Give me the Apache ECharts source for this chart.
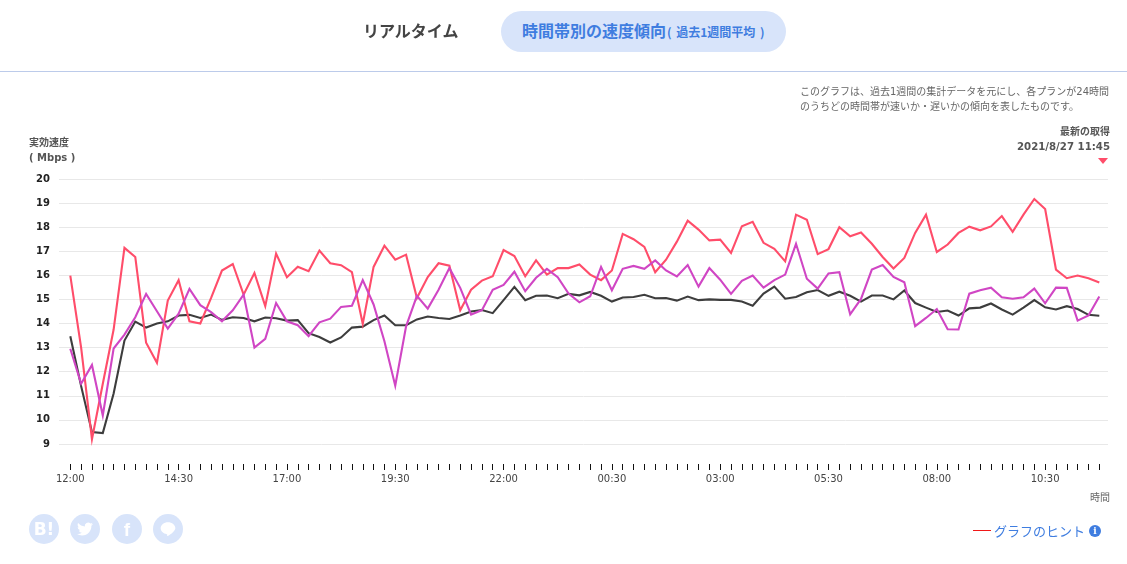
<!DOCTYPE html>
<html>
<head>
    <meta charset="utf-8">
    <title>時間帯別の速度傾向</title>
    <script src="https://cdn.jsdelivr.net/npm/echarts@6/dist/echarts.min.js"></script>
    <style>
        html, body { margin: 0; padding: 0; background: #fff; overflow: hidden; }
        body { width: 1127px; height: 564px; position: relative; font-family: "DejaVu Sans", "Noto Sans CJK JP", sans-serif; }
        #chart { position: absolute; left: 0; top: 0; width: 1127px; height: 564px; }
        .abs { position: absolute; white-space: nowrap; }
        .tab-off { left: 363px; top: 18px; font-size: 16px; line-height: 24px; font-weight: bold; color: #444; font-family: "Noto Sans CJK JP", sans-serif; }
        .tab-on { left: 501px; top: 11px; width: 285px; height: 41px; border-radius: 21px; background: #d8e4fa; }
        .tab-on-text { left: 522px; top: 18px; font-size: 16px; line-height: 24px; font-weight: bold; color: #3f7de0; font-family: "Noto Sans CJK JP", sans-serif; }
        .tab-on-text small { font-size: 12px; word-spacing: 2px; margin-left: 1px; }
        .rule { left: 0; top: 71px; width: 1127px; height: 1px; background: #bccbea; }
        .note { left: 800px; top: 84px; font-size: 10px; line-height: 15px; color: #666; }
        .latest { right: 17px; top: 124px; text-align: right; font-weight: bold; color: #555; }
        .latest .l1 { font-size: 10px; line-height: 15px; }
        .latest .l2 { font-size: 10.2px; line-height: 15px; }
        .marker { left: 1098px; top: 158px; width: 0; height: 0; border-left: 5.5px solid transparent; border-right: 5.5px solid transparent; border-top: 6px solid #ff4d6a; }
        .yname { left: 29px; top: 135px; font-size: 10px; line-height: 15px; font-weight: bold; color: #555; }
        .xname { left: 1090px; top: 491px; font-size: 10px; line-height: 14px; color: #666; }
        .social { top: 514px; width: 30px; height: 30px; border-radius: 50%; background: #d8e4fa; color: #fff; text-align: center; font-weight: bold; }
        .social svg { position: absolute; left: 7px; top: 7px; width: 16px; height: 16px; fill: #fff; }
        .hint-line { left: 973px; top: 530px; width: 18px; height: 1px; background: #f01818; }
        .hint { left: 994px; top: 522px; font-size: 13px; line-height: 18px; color: #3f7de0; font-family: "Noto Sans CJK JP", sans-serif; }
        .info { left: 1089px; top: 525px; width: 12px; height: 12px; border-radius: 50%; background: #3f7de0; color: #fff; font-size: 9px; line-height: 12px; font-weight: bold; text-align: center; font-family: "DejaVu Serif", serif; }
    </style>
</head>
<body>

<div id="chart"></div>

<div class="abs tab-off">リアルタイム</div>
<div class="abs tab-on"></div>
<div class="abs tab-on-text">時間帯別の速度傾向<small>( 過去1週間平均 )</small></div>
<div class="abs rule"></div>
<div class="abs note">このグラフは、過去1週間の集計データを元にし、各プランが24時間<br>のうちどの時間帯が速いか・遅いかの傾向を表したものです。</div>
<div class="abs latest"><div class="l1">最新の取得</div><div class="l2">2021/8/27 11:45</div></div>
<div class="abs marker"></div>
<div class="abs yname">実効速度<br>( Mbps )</div>
<div class="abs xname">時間</div>

<div class="abs social" style="left:29px;font-size:17px;line-height:30px;">B!</div>
<div class="abs social" style="left:70px;"><svg viewBox="0 0 24 24"><path d="M23.953 4.57a10 10 0 01-2.825.775 4.958 4.958 0 002.163-2.723c-.951.555-2.005.959-3.127 1.184a4.92 4.92 0 00-8.384 4.482C7.69 8.095 4.067 6.13 1.64 3.162a4.822 4.822 0 00-.666 2.475c0 1.71.87 3.213 2.188 4.096a4.904 4.904 0 01-2.228-.616v.06a4.923 4.923 0 003.946 4.827 4.996 4.996 0 01-2.212.085 4.936 4.936 0 004.604 3.417 9.867 9.867 0 01-6.102 2.105c-.39 0-.779-.023-1.17-.067a13.995 13.995 0 007.557 2.209c9.053 0 13.998-7.496 13.998-13.985 0-.21 0-.42-.015-.63A9.935 9.935 0 0024 4.59z"/></svg></div>
<div class="abs social" style="left:112px;font-size:19px;line-height:31px;font-family:'Liberation Sans',sans-serif;">f</div>
<div class="abs social" style="left:153px;"><svg viewBox="0 0 24 24"><path d="M12 2C5.9 2 1 6 1 11c0 4.4 3.9 8.100 9.200 8.800.4.100.8.300.7.800l-.2 1.400c0 .4.300.8 1 .4 1-.6 5.600-3.300 7.700-5.700C21.100 14.900 23 13.100 23 11c0-5-4.900-9-11-9z"/></svg></div>

<div class="abs hint-line"></div>
<div class="abs hint">グラフのヒント</div>
<div class="abs info">i</div>

<script>
    // 15分ごとの時刻
    const timeLabels = [
        '12:00', '12:15', '12:30', '12:45', '13:00', '13:15', '13:30', '13:45',
        '14:00', '14:15', '14:30', '14:45', '15:00', '15:15', '15:30', '15:45',
        '16:00', '16:15', '16:30', '16:45', '17:00', '17:15', '17:30', '17:45',
        '18:00', '18:15', '18:30', '18:45', '19:00', '19:15', '19:30', '19:45',
        '20:00', '20:15', '20:30', '20:45', '21:00', '21:15', '21:30', '21:45',
        '22:00', '22:15', '22:30', '22:45', '23:00', '23:15', '23:30', '23:45',
        '00:00', '00:15', '00:30', '00:45', '01:00', '01:15', '01:30', '01:45',
        '02:00', '02:15', '02:30', '02:45', '03:00', '03:15', '03:30', '03:45',
        '04:00', '04:15', '04:30', '04:45', '05:00', '05:15', '05:30', '05:45',
        '06:00', '06:15', '06:30', '06:45', '07:00', '07:15', '07:30', '07:45',
        '08:00', '08:15', '08:30', '08:45', '09:00', '09:15', '09:30', '09:45',
        '10:00', '10:15', '10:30', '10:45', '11:00', '11:15', '11:30', '11:45'
    ];

    const darkSpeed = [
        13.47, 11.4, 9.49, 9.45, 11.09, 13.29, 14.08, 13.83, 14.0, 14.09, 14.33, 14.36,
        14.23, 14.37, 14.15, 14.26, 14.23, 14.09, 14.25, 14.22, 14.12, 14.14, 13.6, 13.44,
        13.21, 13.42, 13.83, 13.87, 14.14, 14.33, 13.93, 13.93, 14.17, 14.29, 14.23, 14.19,
        14.33, 14.5, 14.56, 14.43, 14.97, 15.52, 14.97, 15.15, 15.16, 15.05, 15.23, 15.17,
        15.31, 15.15, 14.91, 15.08, 15.1, 15.19, 15.05, 15.06, 14.95, 15.12, 14.97, 15.0,
        14.98, 14.98, 14.91, 14.74, 15.24, 15.53, 15.03, 15.1, 15.3, 15.39, 15.15, 15.32,
        15.15, 14.91, 15.16, 15.16, 15.0, 15.37, 14.85, 14.66, 14.48, 14.54, 14.33, 14.63,
        14.66, 14.83, 14.58, 14.37, 14.66, 14.97, 14.67, 14.58, 14.72, 14.6, 14.36, 14.32
    ];

    const redSpeed = [
        15.99, 13.0, 9.2, 11.5, 13.75, 17.14, 16.76, 13.2, 12.37, 14.95, 15.8, 14.09,
        14.0, 15.06, 16.2, 16.47, 15.2, 16.1, 14.72, 16.9, 15.92, 16.36, 16.17, 17.03,
        16.5, 16.42, 16.13, 13.98, 16.35, 17.23, 16.65, 16.86, 15.06, 15.93, 16.5, 16.4,
        14.55, 15.4, 15.78, 15.96, 17.05, 16.8, 15.96, 16.62, 16.03, 16.3, 16.3, 16.45,
        16.03, 15.8, 16.2, 17.72, 17.5, 17.18, 16.13, 16.65, 17.4, 18.27, 17.9, 17.45,
        17.48, 16.93, 18.04, 18.22, 17.35, 17.1, 16.58, 18.52, 18.31, 16.88, 17.09, 18.0,
        17.62, 17.78, 17.31, 16.76, 16.28, 16.72, 17.76, 18.52, 16.97, 17.28, 17.76, 18.02,
        17.87, 18.03, 18.46, 17.81, 18.52, 19.17, 18.75, 16.24, 15.88, 15.99, 15.88, 15.7
    ];

    const magentaSpeed = [
        12.95, 11.5, 12.28, 10.18, 12.96, 13.54, 14.26, 15.23, 14.51, 13.79, 14.41, 15.44,
        14.76, 14.47, 14.09, 14.55, 15.2, 13.0, 13.36, 14.85, 14.09, 13.93, 13.47, 14.05,
        14.2, 14.69, 14.74, 15.8, 14.79, 13.26, 11.42, 13.88, 15.15, 14.62, 15.4, 16.3,
        15.48, 14.37, 14.55, 15.4, 15.6, 16.15, 15.34, 15.9, 16.27, 15.92, 15.24, 14.88,
        15.13, 16.35, 15.38, 16.27, 16.39, 16.27, 16.62, 16.2, 15.95, 16.43, 15.53, 16.3,
        15.82, 15.23, 15.77, 15.99, 15.49, 15.8, 16.03, 17.31, 15.86, 15.45, 16.08, 16.13,
        14.38, 15.02, 16.24, 16.43, 15.93, 15.71, 13.89, 14.23, 14.6, 13.76, 13.75, 15.24,
        15.38, 15.49, 15.09, 15.03, 15.09, 15.45, 14.84, 15.49, 15.48, 14.12, 14.33, 15.12
    ];

    const speedMin = 8;
    const speedMax = 20;

    function lineSeries(data, color) {
        return {
            type: 'line',
            xAxisIndex: 1,
            yAxisIndex: 1,
            data: data,
            symbol: 'none',
            lineStyle: { color: color, width: 2.1, join: 'miter' },
            animation: false
        };
    }

    let myChart = echarts.init(document.getElementById('chart'));
    myChart.setOption({
        animation: false,
        textStyle: { fontFamily: '"DejaVu Sans", "Noto Sans CJK JP", sans-serif' },
        // grid0は目盛線用、grid1は折れ線用(左右に少し余白がある)
        grid: [
            { left: 59, top: 179, width: 1049, height: 289 },
            { left: 70.3, top: 179, width: 1029, height: 289 }
        ],
        xAxis: [
            { gridIndex: 0, type: 'value', show: false, min: 0, max: 1 },
            {
                gridIndex: 1,
                type: 'category',
                boundaryGap: false,
                data: timeLabels,
                offset: -4,
                axisLine: { show: false },
                axisTick: { show: true, interval: 0, length: 6, lineStyle: { color: '#111', width: 1 } },
                axisLabel: { interval: 9, fontSize: 10, color: '#444', margin: 10, showMinLabel: true },
                splitLine: { show: false }
            }
        ],
        yAxis: [
            {
                gridIndex: 0,
                type: 'value',
                min: speedMin,
                max: speedMax,
                interval: 1,
                axisLine: { show: false },
                axisTick: { show: false },
                axisLabel: {
                    fontSize: 10,
                    fontWeight: 'bold',
                    color: '#222',
                    margin: 9,
                    formatter: function(v) { return v === speedMin ? '' : String(v); }
                },
                splitLine: { showMinLine: false, lineStyle: { color: '#e8e8e8', width: 1 } }
            },
            { gridIndex: 1, type: 'value', show: false, min: speedMin, max: speedMax, splitLine: { show: false } }
        ],
        series: [
            lineSeries(darkSpeed, '#3d3d3d'),
            lineSeries(redSpeed, '#ff4d6a'),
            lineSeries(magentaSpeed, '#d046c4')
        ]
    });
</script>
</body>
</html>
